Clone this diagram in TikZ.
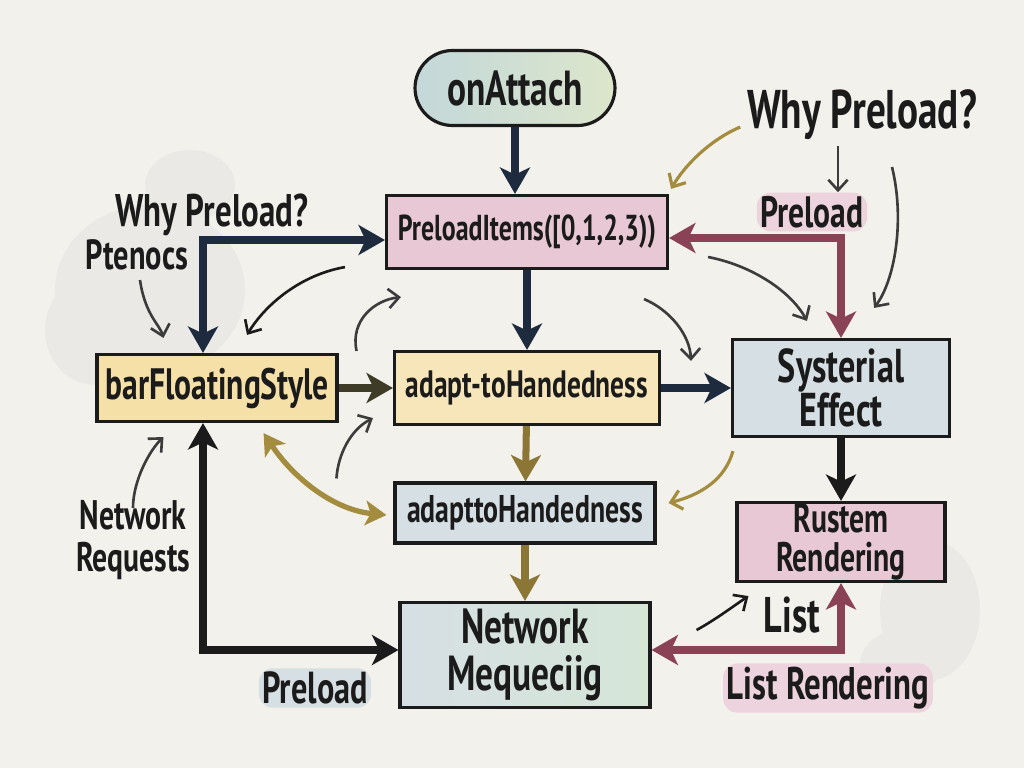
\documentclass[tikz,border=0pt]{standalone}
\usepackage{fontspec}
\setmainfont[FakeStretch=0.72]{PT Sans}
\usetikzlibrary{arrows.meta,positioning}
\definecolor{paper}{HTML}{F3F1EC}
\definecolor{ink}{HTML}{1B1B1B}
\definecolor{navy}{HTML}{1E2B3E}
\definecolor{darkolive}{HTML}{3E3C26}
\definecolor{olive}{HTML}{8C7636}
\definecolor{goldpen}{HTML}{A48C3E}
\definecolor{maroon}{HTML}{8A4256}
\definecolor{graypen}{HTML}{3C3C3C}
\definecolor{pinkwash}{HTML}{E8C8D4}
\definecolor{yellowwash}{HTML}{F5E0A8}
\definecolor{bluewash}{HTML}{D6DFE4}
\definecolor{greenwash}{HTML}{D5E6D7}
\definecolor{attachleft}{HTML}{C4D8DA}
\definecolor{attachright}{HTML}{DCE6CB}
\definecolor{blot}{HTML}{C9CCCB}
\newcommand\handsize[2]{\fontsize{#1}{#2}\selectfont\bfseries}
\begin{document}
\begin{tikzpicture}[x=0.02cm,y=-0.02cm,
    box/.style={draw=ink,line width=1.8pt,align=center,inner sep=0pt,text=ink},
    pill/.style={box,rounded corners=0.75cm},
    note/.style={align=center,text=ink,inner sep=2pt},
    bigarr/.style={line width=4pt,-{Stealth[length=15pt,width=17pt,inset=4pt]}},
    bothbig/.style={line width=4pt,{Stealth[length=15pt,width=17pt,inset=4pt]}-{Stealth[length=15pt,width=17pt,inset=4pt]}},
    thinarr/.style={draw=graypen,line width=1.5pt,-{Straight Barb[length=6pt,width=11pt]}}]
  \fill[paper] (0,0) rectangle (1024,768);
  \fill[blot,opacity=.2] (150,290) ellipse [x radius=95,y radius=85]
    (95,330) ellipse [x radius=50,y radius=55] (190,185) ellipse [x radius=45,y radius=35]
    (930,610) ellipse [x radius=50,y radius=70] (900,665) ellipse [x radius=40,y radius=35];
  \draw
    (515,88) node[pill,left color=attachleft,right color=attachright,
      minimum width=4cm,minimum height=1.5cm,font=\handsize{28}{28}] (attach){onAttach}
    (527,232) node[box,fill=pinkwash,minimum width=5.62cm,minimum height=1.46cm,
      font=\handsize{20.5}{22}] (items){PreloadItems([0,1,2,3))}
    (217,388) node[box,fill=yellowwash,minimum width=4.8cm,minimum height=1.34cm,
      font=\handsize{25}{26}] (bar){barFloatingStyle}
    (527,388) node[box,fill=yellowwash!80!white,minimum width=5.3cm,minimum height=1.46cm,
      font=\handsize{21.7}{23}] (adapt){adapt-toHandedness}
    (841,388) node[box,fill=bluewash,minimum width=4.34cm,minimum height=1.94cm,
      font=\handsize{27}{25}] (effect){Systerial\\Effect}
    (525,513) node[box,fill=bluewash,minimum width=5.2cm,minimum height=1.2cm,
      font=\handsize{22}{23}] (adapt2){adapttoHandedness}
    (841,542) node[box,fill=pinkwash,minimum width=4.16cm,minimum height=1.58cm,
      font=\handsize{23.5}{22}] (rustem){Rustem\\Rendering}
    (525,655) node[box,left color=bluewash,right color=greenwash,minimum width=5cm,
      minimum height=2.1cm,font=\handsize{28}{27}] (network){Network\\Mequeciig};
  \draw
    (862,115) node[note,font=\handsize{31}{31}] (whyR){Why Preload?}
    (812,212) node[note,fill=pinkwash!80,rounded corners=8pt,font=\handsize{25}{25}] (preR){Preload}
    (212,215) node[note,font=\handsize{26}{26}] (whyL){Why Preload?}
    (137,255) node[note,font=\handsize{24}{24}] (ptenocs){Ptenocs}
    (133,540) node[note,font=\handsize{23.5}{24}] (requests){Network\\Requests}
    (315,688) node[note,fill=bluewash,rounded corners=8pt,font=\handsize{25.5}{25}] (preL){Preload}
    (792,615) node[note,font=\handsize{28.5}{28}] (list){List}
    (828,688) node[note,fill=pinkwash!80,rounded corners=8pt,font=\handsize{26}{26}] (listR){List Rendering};
  \begin{scope}[bigarr]
    \draw[navy] (attach) -- (attach |- items.north);
    \draw[navy] (items) -- (adapt);
    \draw[darkolive] (bar) -- (adapt);
    \draw[navy] (adapt) -- (effect);
    \draw[olive] (adapt) -- (adapt2);
    \draw[olive] (adapt2) -- (network);
    \draw[ink] (effect) -- (rustem);
  \end{scope}
  \begin{scope}[bothbig]
    \draw[navy] ([shift={(-14,0)}]bar.north) |- ([shift={(0,8)}]items.west);
    \draw[ink] ([shift={(-14,0)}]bar.south) |- ([shift={(0,-5)}]network.west);
    \draw[maroon,line width=5pt] ([shift={(0,6)}]items.east) -| (effect.north);
    \draw[maroon,line width=5pt] ([shift={(0,-5)}]network.east) -| (rustem.south);
  \end{scope}
  \begin{scope}[thinarr]
    \draw[draw=ink] ([shift={(-40,-3)}]items.south west) .. controls (300,275) and (265,305) .. ([shift={(30,-18)}]bar.north);
    \draw ([shift={(3,25)}]ptenocs.center) .. controls (145,315) and (160,325) .. ([shift={(68,-15)}]bar.north west);
    \draw ([shift={(18,-2)}]bar.north east) .. controls (350,320) and (375,300) .. ([shift={(16,27)}]items.south west);
    \draw ([shift={(-57,-3)}]adapt2.north west) .. controls (338,455) and (350,430) .. ([shift={(-20,-8)}]adapt.south west);
    \draw ([shift={(0,-32)}]requests.center) .. controls (133,480) and (150,450) .. ([shift={(68,14)}]bar.south west);
    \draw ([shift={(-25,29)}]items.south east) .. controls (670,310) and (690,335) .. ([shift={(-40,23)}]effect.north west);
    \draw[draw=goldpen,line width=1.8pt] ([shift={(2,13)}]effect.south west) .. controls (725,480) and (700,495) .. ([shift={(12,-10)}]adapt2.east);
    \draw[draw=goldpen,line width=1.8pt] ([shift={(-3,12)}]whyR.west) .. controls (710,140) and (685,165) .. ([shift={(2,-5)}]items.north east);
    \draw ([shift={(-24,2)}]whyR.south) -- ([shift={(26,0)}]preR.north);
    \draw ([shift={(30,52)}]whyR.center) .. controls (905,220) and (895,280) .. ([shift={(-77,-30)}]effect.north east);
    \draw ([shift={(39,25)}]items.east) .. controls (750,265) and (790,290) .. ([shift={(-34,-17)}]effect.north);
    \draw[draw=ink] ([shift={(45,-25)}]network.east) .. controls (715,620) and (735,605) .. ([shift={(13,13)}]rustem.south west);
  \end{scope}
  \draw[draw=goldpen,line width=3pt,{Stealth[length=12pt,width=14pt,inset=3pt]}-{Stealth[length=12pt,width=14pt,inset=3pt]}]
    ([shift={(-75,10)}]bar.south east) .. controls (295,480) and (335,510) .. ([shift={(-7,2)}]adapt2.west);
\end{tikzpicture}
\end{document}
